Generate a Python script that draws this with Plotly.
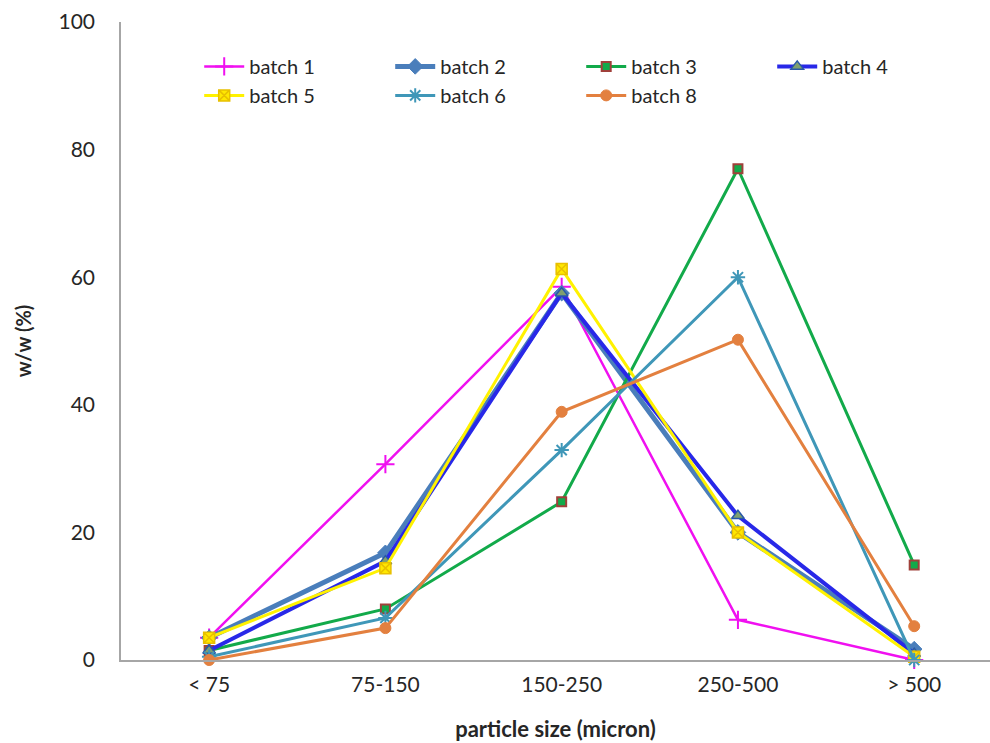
import plotly.graph_objects as go

# Particle size fractions and weight percentages per batch
sizes = ["< 75", "75-150", "150-250", "250-500", "> 500"]

batch_1 = [3.5, 30.7, 58.5, 6.3, 0.0]
batch_2 = [3.5, 16.8, 57.5, 20.0, 1.7]
batch_3 = [1.5, 8.0, 24.8, 77.0, 14.9]
batch_4 = [1.5, 15.5, 57.5, 22.6, 1.0]
batch_5 = [3.5, 14.4, 61.3, 20.0, 0.5]
batch_6 = [0.5, 6.6, 32.9, 60.0, 0.0]
batch_8 = [0.0, 5.0, 38.9, 50.2, 5.3]

series = [
    ("batch 1", batch_1, dict(color="#F010F0", width=2.5),
     dict(symbol="cross-thin", size=13, line=dict(color="#F010F0", width=2))),
    ("batch 2", batch_2, dict(color="#4A7EBB", width=5),
     dict(symbol="diamond", size=12, color="#4A7EBB", line=dict(color="#4A7EBB", width=1))),
    ("batch 3", batch_3, dict(color="#12AA4A", width=3),
     dict(symbol="square", size=9, color="#12AA4A", line=dict(color="#A0403A", width=2))),
    ("batch 4", batch_4, dict(color="#2828E8", width=4),
     dict(symbol="triangle-up", size=11, color="#7FA070", line=dict(color="#2858A8", width=1.5))),
    ("batch 5", batch_5, dict(color="#FFF200", width=3),
     dict(symbol="square-x", size=11, color="#FFE800", line=dict(color="#E8C000", width=1.5))),
    ("batch 6", batch_6, dict(color="#3F97B8", width=3),
     dict(symbol="asterisk-open", size=12, line=dict(color="#3F97B8", width=2))),
    ("batch 8", batch_8, dict(color="#E3803F", width=3),
     dict(symbol="circle", size=11, color="#E3803F", line=dict(color="#E3803F", width=1))),
]

fig = go.Figure()
for name, values, line, marker in series:
    fig.add_trace(go.Scatter(
        x=sizes, y=values, name=name, mode="lines+markers",
        line=line, marker=marker, cliponaxis=False,
    ))

font_family = "Lato, 'Open Sans', sans-serif"
text_color = "#262626"

fig.update_layout(
    width=990, height=743,
    margin=dict(l=121, r=0, t=22, b=83),
    paper_bgcolor="white", plot_bgcolor="white",
    font=dict(family=font_family, size=21, color=text_color),
    showlegend=True,
    legend=dict(
        orientation="h", x=0.09, y=0.961, xanchor="left", yanchor="top",
        entrywidth=136, entrywidthmode="pixels",
        font=dict(size=20, color=text_color),
        bgcolor="rgba(0,0,0,0)", itemwidth=40,
    ),
    xaxis=dict(
        type="category", range=[-0.5, 4.43],
        showline=True, linecolor="#A6A6A6", linewidth=1.5,
        showgrid=False, zeroline=False, ticks="",
        ticklabelstandoff=5,
        tickfont=dict(size=21, color=text_color),
        title=dict(text="<b>particle size (micron)</b>", standoff=27,
                   font=dict(size=22, color=text_color)),
    ),
    yaxis=dict(
        range=[0, 100], tickvals=[0, 20, 40, 60, 80, 100],
        showline=True, linecolor="#A6A6A6", linewidth=1.5,
        showgrid=False, zeroline=False, ticks="",
        ticklabelstandoff=20,
        tickfont=dict(size=21, color=text_color),
        title=dict(text="<b>w/w (%)</b>", standoff=22,
                   font=dict(size=20, color=text_color)),
    ),
)

fig.write_html("out.html")
